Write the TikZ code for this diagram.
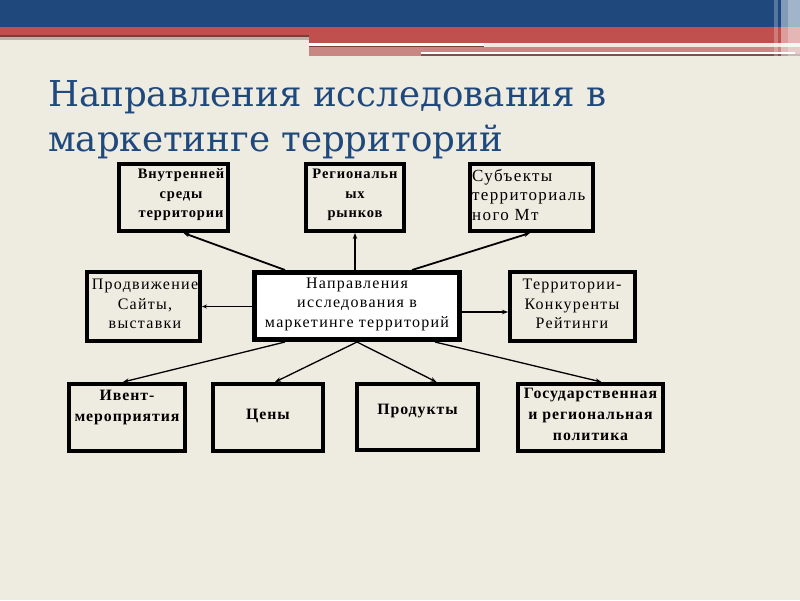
\documentclass[tikz,border=0pt]{standalone}
\usepackage{fontspec}
\setmainfont{Liberation Serif}
\newfontfamily\titlefont{DejaVu Serif}
\newfontfamily\bxr{Liberation Serif}[LetterSpace=8]
\newfontfamily\bxb{Liberation Serif}[LetterSpace=6,BoldFont={Liberation Serif Bold}]
\usetikzlibrary{arrows.meta,calc}
\definecolor{bg}{RGB}{238,235,224}
\definecolor{hblue}{RGB}{31,73,125}
\definecolor{hred}{RGB}{192,80,77}
\definecolor{hdark}{RGB}{120,62,56}
\definecolor{hpink}{RGB}{200,135,130}
\definecolor{hgray}{RGB}{185,180,165}
\definecolor{tblue}{RGB}{31,73,125}
\tikzset{
  box/.style={draw=black, line width=4pt, fill=bg, inner sep=0pt},
  cbox/.style={draw=black, line width=5pt, fill=white, inner sep=0pt},
  txt/.style={align=center, inner sep=0pt, font=\bxr\fontsize{15}{19.5}\selectfont},
  txtb/.style={align=center, inner sep=0pt, font=\bxb\bfseries\fontsize{14.5}{19.5}\selectfont},
  txtbl/.style={align=center, inner sep=0pt, font=\bxb\bfseries\fontsize{15.8}{21}\selectfont},
  conn/.style={line width=1.8pt, -{Stealth[length=6pt,width=4.5pt]}},
  connb/.style={line width=1.3pt, -{Stealth[length=6pt,width=4.5pt]}},
}
\begin{document}
\begin{tikzpicture}[x=1pt,y=-1pt]
\useasboundingbox (0,0) rectangle (800,600);
\fill[bg] (0,0) rectangle (800,600);
% header
\fill[hblue] (0,0) rectangle (800,27);
\fill[hred] (0,27) rectangle (309,36);
\fill[hdark] (0,35) rectangle (309,37);
\fill[hgray] (0,37) rectangle (309,40);
\fill[hred] (309,27) rectangle (800,43);
\fill[white] (309,43) rectangle (484,45.5);
\fill[hdark] (309,45.5) rectangle (484,47);
\fill[hpink] (309,47) rectangle (800,52);
\fill[hpink] (309,52) rectangle (421,56);
\fill[white] (421,52) rectangle (795,54);
\fill[hpink] (795,52) rectangle (800,56);
\fill[hdark!70!gray] (421,54) rectangle (800,56);
\fill[white,opacity=0.25] (774,0) rectangle (778,56);
\fill[white,opacity=0.45] (781,0) rectangle (800,56);
\fill[white,opacity=0.25] (788,0) rectangle (800,56);
% title
\node[anchor=base west, inner sep=0pt, text=tblue, font=\titlefont\fontsize{35.6}{40}\selectfont] (t1) at (48,106) {Направления исследования в};
\node[anchor=base west, inner sep=0pt, text=tblue, font=\titlefont\fontsize{35.6}{40}\selectfont] (t2) at (48,151) {маркетинге территорий};
% boxes
\node[box, minimum width=109pt, minimum height=67pt] (b1) at (173.5,197.5) {};
\node[box, minimum width=98pt, minimum height=67pt] (b2) at (355,197.5) {};
\node[box, minimum width=123pt, minimum height=67pt] (b3) at (531.5,197.5) {};
\node[cbox, minimum width=205pt, minimum height=67pt] (c) at (357,306) {};
\node[box, minimum width=113pt, minimum height=69pt] (l) at (143.5,306.5) {};
\node[box, minimum width=125pt, minimum height=69pt] (r) at (572.5,306.5) {};
\node[box, minimum width=116pt, minimum height=67pt] (d1) at (127,417.5) {};
\node[box, minimum width=110pt, minimum height=67pt] (d2) at (268,417.5) {};
\node[box, minimum width=121pt, minimum height=66pt] (d3) at (417.5,417) {};
\node[box, minimum width=145pt, minimum height=67pt] (d4) at (590.5,417.5) {};
% texts
\node[txtb] (b1t) at (181,195) {Внутренней\\среды\\территории};
\node[txtb] (b2t) at (355,195) {Региональн\\ых\\рынков};
\node[txt, align=left, anchor=north west, font=\bxr\fontsize{17}{19.5}\selectfont] (b3t) at (472,169) {Субъекты\\территориаль\\ного Мт};
\node[txt, font=\bxr\fontsize{16}{19.5}\selectfont] (ct) at (357,304) {Направления\\исследования в\\маркетинге территорий};
\node[txt, font=\bxr\fontsize{16}{19.5}\selectfont] (lt) at (145,304) {Продвижение\\Сайты,\\выставки};
\node[txt, font=\bxr\fontsize{16}{19.5}\selectfont] (rt) at (572,304) {Территории-\\Конкуренты\\Рейтинги};
\node[txtbl] (d1t) at (127,408) {Ивент-\\мероприятия};
\node[txtbl] (d2t) at (268,416) {Цены};
\node[txtbl] (d3t) at (417.5,411) {Продукты};
\node[txtbl] (d4t) at (590.5,414) {Государственная\\и региональная\\политика};
% connectors
\draw[conn] ([xshift=33pt]c.north west) -- ([xshift=10pt]b1.south);
\draw[conn] (c.north -| b2.south) -- (b2.south);
\draw[conn] ([xshift=-50pt]c.north east) -- ([xshift=-1.5pt]b3.south);
\draw[line width=1.8pt, -{Stealth[open,length=5pt,width=4pt]}] (c.west |- l.east) -- (l.east);
\draw[conn] ([yshift=-42pt]c.north east) -- ([yshift=-42pt]r.north west);
\draw[connb] ([xshift=33pt]c.south west) -- ([xshift=-4pt]d1.north);
\draw[connb] (c.south) -- ([xshift=7pt]d2.north);
\draw[connb] (c.south) -- ([xshift=19pt]d3.north);
\draw[connb] ([xshift=-27pt]c.south east) -- ([xshift=11pt]d4.north);
\end{tikzpicture}
\end{document}
